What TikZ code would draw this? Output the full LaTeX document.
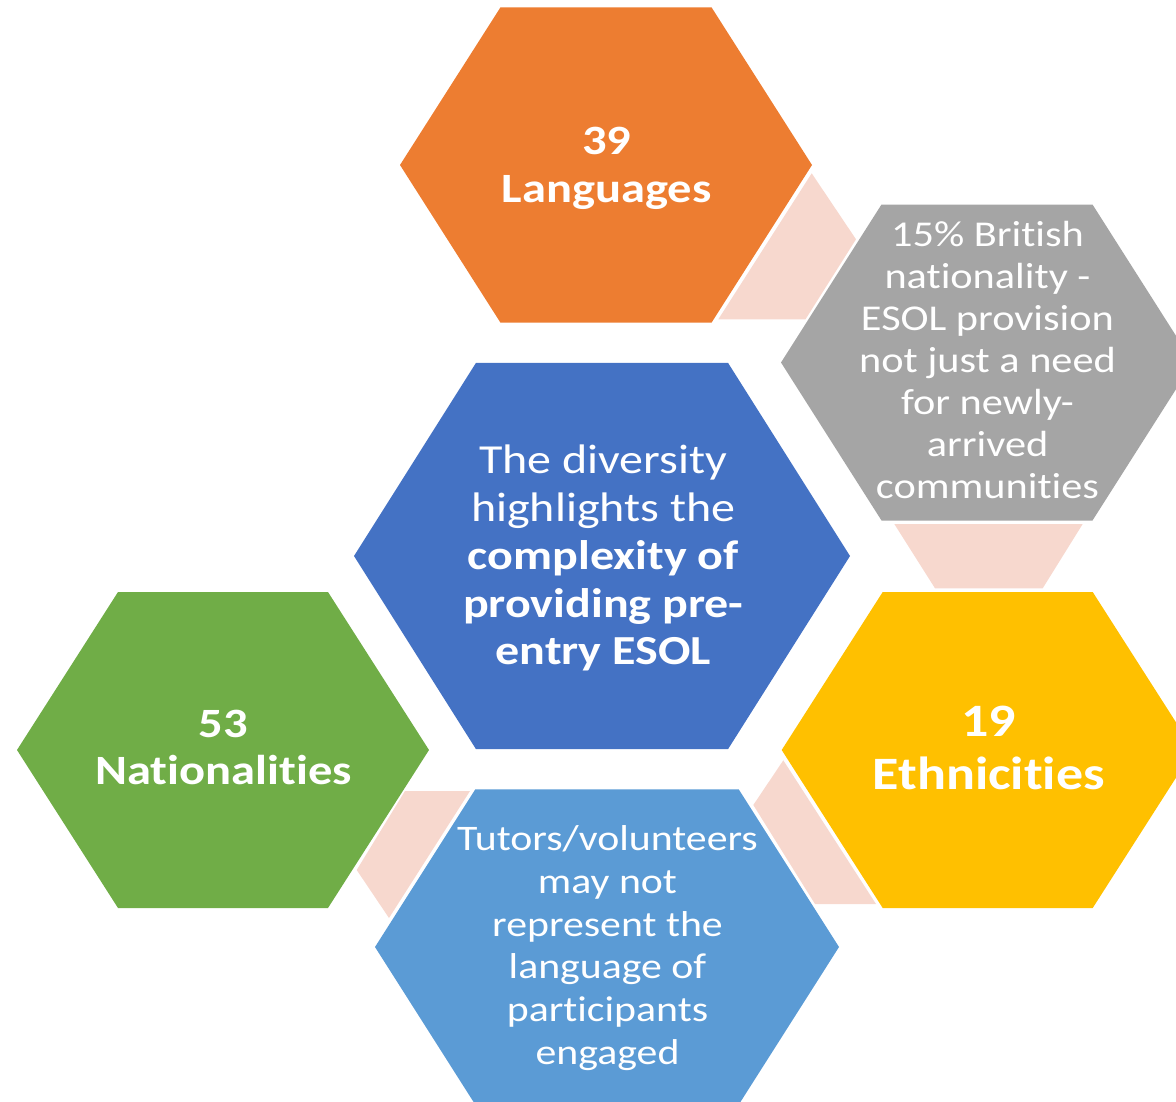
\documentclass[tikz,border=0pt]{standalone}
\usepackage{fontspec}
\setmainfont{Carlito}[RawFeature={-liga;-clig;-dlig;-calt}]
\definecolor{HexOrange}{HTML}{ED7D31}
\definecolor{HexGray}{HTML}{A5A5A5}
\definecolor{HexBlue}{HTML}{4472C4}
\definecolor{HexGreen}{HTML}{70AD47}
\definecolor{HexYellow}{HTML}{FFC000}
\definecolor{HexSky}{HTML}{5B9BD5}
\definecolor{LinkPink}{HTML}{F7D8CE}
\newcommand{\tI}{t\kern0pt i}
\tikzstyle{Link} = [fill=LinkPink]
\tikzstyle{Label} = [
text=white,
align=center,
inner sep=0pt,
yscale=0.86
]

\begin{document}
\begin{tikzpicture}[x=1pt,y=-1pt]
   \clip (0,0) rectangle (1176,1101);

   \fill[Link] (811.7,173.3) -- (856,239.3) -- (805.5,319.3) -- (718.3,319.3) -- cycle;
   \fill[Link] (894.3,524) -- (1082.7,524) -- (1042.7,588.3) -- (935,588.3) -- cycle;
   \fill[Link] (783.3,760.3) -- (876,904) -- (815,904) -- (753.3,805) -- cycle;
   \fill[Link] (405,791) -- (470,791) -- (389,918) -- (356.7,870) -- cycle;

   \fill[HexOrange] (400,165) -- (500.5,7.3) -- (711.5,7.3) -- (812,165) -- (711.5,322.7) -- (500.5,322.7) -- cycle;
   \fill[HexGray] (781,362.5) -- (881.5,204.5) -- (1092.5,204.5) -- (1193,362.5) -- (1092.5,520.5) -- (881.5,520.5) -- cycle;
   \fill[HexBlue] (354,556) -- (476,362.8) -- (728,362.8) -- (850,556) -- (728,749.2) -- (476,749.2) -- cycle;
   \fill[HexGreen] (17,750) -- (118,592) -- (328,592) -- (429,750) -- (328,908) -- (118,908) -- cycle;
   \fill[HexYellow] (781.7,750) -- (882.7,592) -- (1092.7,592) -- (1193.7,750) -- (1092.7,908) -- (882.7,908) -- cycle;
   \fill[HexSky] (375,947) -- (475.3,789.3) -- (738.7,789.3) -- (839,947) -- (738.7,1104.7) -- (475.3,1104.7) -- cycle;

   \node[Label, font=\fontsize{48.5}{55.8}\selectfont\bfseries] (lang) at (606.7,168.3) {39\\Languages};
   \node[Label, font=\fontsize{42.3}{49}\selectfont] (brit) at (987.5,360) {15\% Bri\tI sh\\na\tI onality -\\ESOL provision\\not just a need\\for newly-\\arrived\\communi\tI es};
   \node[Label, font=\fontsize{48}{55.5}\selectfont] (core) at (603.3,558.3) {The diversity\\highlights the\\\textbf{complexity of}\\\textbf{providing pre-}\\\textbf{entry ESOL}};
   \node[Label, font=\fontsize{48.5}{55}\selectfont\bfseries] (nat) at (223.5,747.8) {53\\Na\tI onali\tI es};
   \node[Label, font=\fontsize{54}{61.6}\selectfont\bfseries] (eth) at (988.8,748.3) {19\\Ethnici\tI es};
   \node[Label, font=\fontsize{41.8}{49.6}\selectfont] (tut) at (607.5,948) {Tutors/volunteers\\may not\\represent the\\language of\\par\tI cipants\\engaged};
\end{tikzpicture}
\end{document}
